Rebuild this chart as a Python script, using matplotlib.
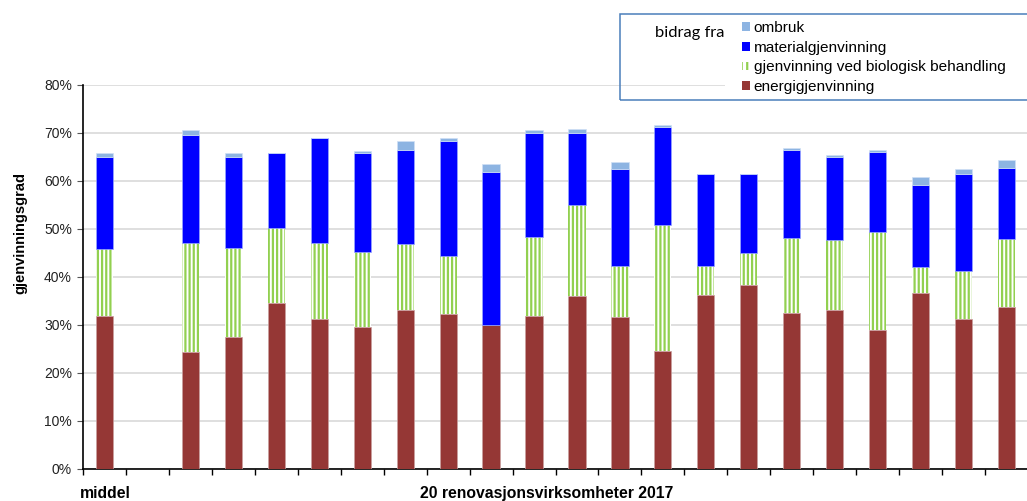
import numpy as np
import matplotlib
matplotlib.use("Agg")
from matplotlib import pyplot as plt
from matplotlib.patches import Patch, Rectangle

# contributions per bar (percent); index 0 = middel, index 1 = empty gap
energi = [31.9, 0, 24.4, 27.5, 34.6, 31.2, 29.6, 33.1, 32.3, 29.9, 31.9,
          36.0, 31.6, 24.6, 36.3, 38.3, 32.4, 33.2, 29.0, 36.7, 31.2, 33.7]
biologisk = [13.9, 0, 22.7, 18.6, 15.7, 15.9, 15.7, 13.8, 12.1, 0.0, 16.4,
             19.1, 10.7, 26.2, 5.9, 6.6, 15.7, 14.6, 20.3, 5.4, 10.1, 14.2]
material = [19.3, 0, 22.4, 18.8, 15.6, 21.9, 20.6, 19.6, 24.0, 31.9, 21.8,
            14.9, 20.1, 20.4, 19.2, 16.5, 18.4, 17.1, 16.8, 17.0, 20.2, 14.9]
ombruk = [0.8, 0, 1.2, 1.0, 0.0, 0.0, 0.3, 1.9, 0.5, 1.8, 0.5,
          0.8, 1.6, 0.5, 0.0, 0.0, 0.4, 0.6, 0.3, 1.7, 1.1, 1.5]

labels = ['ombruk', 'materialgjenvinning',
          'gjenvinning ved biologisk behandling', 'energigjenvinning']
yticks = [0, 10, 20, 30, 40, 50, 60, 70, 80]

c_energi = '#953735'
c_bio = '#92D050'
c_mat = '#0000FF'
c_omb = '#8DB4E2'

plt.rcParams['font.family'] = ['Liberation Sans', 'DejaVu Sans']
plt.rcParams['hatch.linewidth'] = 1.6

fig = plt.figure(figsize=(10.27, 5.01), dpi=100)
ax = fig.add_axes([83 / 1027, 32 / 501, 1 - 83 / 1027 + 0.001, 384 / 501])

x = np.arange(len(energi))
e = np.array(energi)
b = np.array(biologisk)
m = np.array(material)
o = np.array(ombruk)
w = 0.4

ax.bar(x, e, w, color=c_energi, edgecolor='#c9a0a0', linewidth=0.5, zorder=3)
ax.bar(x, b, w, bottom=e, color='white', edgecolor=c_bio, hatch='||||',
       linewidth=0, zorder=3)
ax.bar(x, m, w, bottom=e + b, color=c_mat, edgecolor='#9aa8ff', linewidth=0.5, zorder=3)
ax.bar(x, o, w, bottom=e + b + m, color=c_omb, edgecolor='#d0e0f5', linewidth=0.5, zorder=3)

ax.set_xlim(-0.5, len(energi) - 0.5)
ax.set_ylim(0, 80)
ax.set_yticks(yticks)
ax.set_yticklabels(['%d%%' % t for t in yticks], fontsize=10, color='#222222')
ax.set_xticks([])
ax.set_xticks(np.arange(-0.5, len(energi)), minor=True)
ax.tick_params(axis='x', which='minor', length=4, width=1, direction='out')
ax.tick_params(axis='y', length=4, width=0.8, color='#555555', pad=4)
ax.grid(axis='y', color='#dcdcdc', linewidth=1.3, zorder=0)
for s in ['top', 'right']:
    ax.spines[s].set_visible(False)
ax.spines['left'].set_linewidth(1.2)
ax.spines['bottom'].set_linewidth(1.2)
ax.set_axisbelow(True)

fig.text(20 / 1027, 1 - 233 / 501, 'gjenvinningsgrad', rotation=90,
         ha='center', va='center', fontsize=10.5, fontweight='bold')
fig.text(80 / 1027, 1 - 498 / 501, 'middel', ha='left', va='baseline',
         fontsize=11.3, fontweight='bold')
fig.text(547 / 1027, 1 - 498 / 501, '20 renovasjonsvirksomheter 2017',
         ha='center', va='baseline', fontsize=11.3, fontweight='bold')

# legend box
fig.patches.append(Rectangle((725 / 1027, 1 - 100 / 501), 0.5, 86 / 501,
                             transform=fig.transFigure, facecolor='white',
                             edgecolor='none', zorder=5))
fig.patches.append(Rectangle((620 / 1027, 1 - 100 / 501), 0.5, 86 / 501,
                             transform=fig.transFigure, fill=False,
                             edgecolor='#4A7EBB', linewidth=1.1, zorder=6))
fig.text(655 / 1027, 1 - 33 / 501, 'bidrag fra', ha='left', va='center',
         fontsize=11.8, family=['Lato', 'DejaVu Sans'], zorder=7)
handles = [Patch(facecolor=c_omb, edgecolor='none'),
           Patch(facecolor=c_mat, edgecolor='none'),
           Patch(facecolor='white', edgecolor=c_bio, hatch='|||', linewidth=0),
           Patch(facecolor=c_energi, edgecolor='none')]
leg = fig.legend(handles, labels, loc='upper left',
                 bbox_to_anchor=(740 / 1027, 1 - 19 / 501), frameon=False,
                 fontsize=11.1, handlelength=0.5, handleheight=0.5,
                 handletextpad=0.25, labelspacing=0.36, borderpad=0.15,
                 borderaxespad=0)
leg.set_zorder(8)

fig.savefig('out.png', dpi=100)
